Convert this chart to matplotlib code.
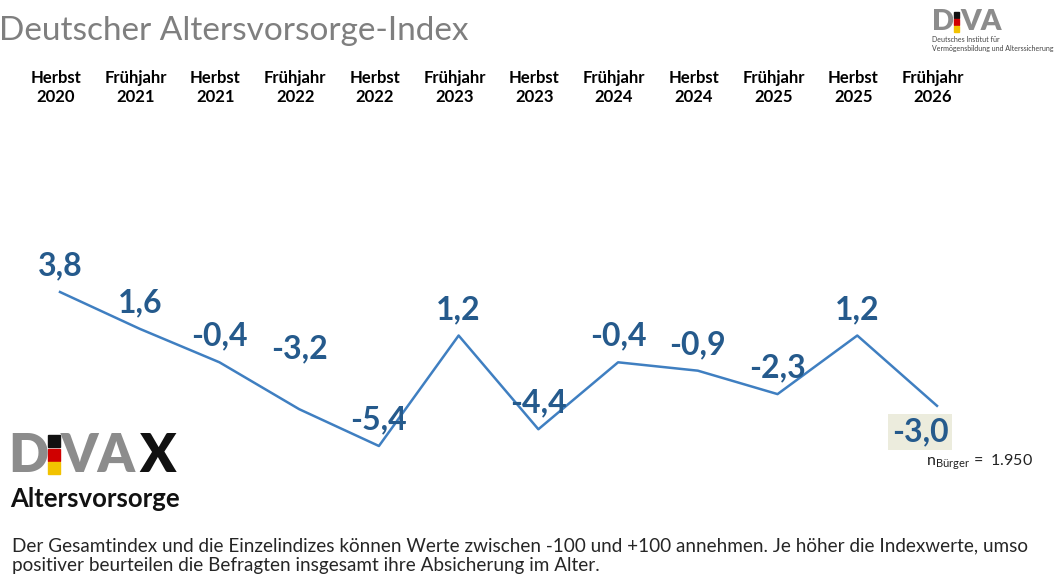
import matplotlib
matplotlib.use("Agg")
import matplotlib.pyplot as plt
from matplotlib.patches import Rectangle
from matplotlib.transforms import blended_transform_factory

plt.rcParams['font.family'] = ['Lato', 'DejaVu Sans']

# Daten
perioden = ["Herbst\n2020", "Frühjahr\n2021", "Herbst\n2021", "Frühjahr\n2022",
            "Herbst\n2022", "Frühjahr\n2023", "Herbst\n2023", "Frühjahr\n2024",
            "Herbst\n2024", "Frühjahr\n2025", "Herbst\n2025", "Frühjahr\n2026"]
werte = [3.8, 1.6, -0.4, -3.2, -5.4, 1.2, -4.4, -0.4, -0.9, -2.3, 1.2, -3.0]
etiketten = ["3,8", "1,6", "-0,4", "-3,2", "-5,4", "1,2", "-4,4", "-0,4",
             "-0,9", "-2,3", "1,2", "-3,0"]

W, H = 1058, 579
fig = plt.figure(figsize=(W / 100, H / 100), dpi=100)

# Achse: Index 0 bei x=60px, Index 11 bei x=937px ; 3,8 bei y=292px, -5,4 bei y=446px
ax = fig.add_axes([60 / W, 1 - 446 / H, 877 / W, 154 / H])
ax.set_xlim(0, len(werte) - 1)
ax.set_ylim(min(werte), max(werte))
ax.axis("off")

x = list(range(len(werte)))
ax.plot(x, werte, color="#3F7FC1", lw=1.8, clip_on=False)

blau = "#255A8C"
for i, (v, t) in enumerate(zip(werte, etiketten)):
    if i == len(werte) - 1:
        # letzter Wert unten, hinterlegt
        ax.annotate(t, (i, v), xytext=(-17, -26), textcoords="offset pixels",
                    ha="center", va="center", fontsize=23, fontweight="bold",
                    color=blau, annotation_clip=False,
                    bbox=dict(boxstyle="square,pad=0.1", fc="#ECECDD", ec="none"))
    else:
        dy = 60 if t == "-3,2" else 26
        ax.annotate(t, (i, v), xytext=(0, dy), textcoords="offset pixels",
                    ha="center", va="center", fontsize=23, fontweight="bold",
                    color=blau, annotation_clip=False)

# Periodenbeschriftung oben
trans = blended_transform_factory(ax.transData, fig.transFigure)
for i, p in enumerate(perioden):
    ax.text(i - 0.05, 1 - 87.5 / H, p, transform=trans,
            ha="center", va="center", fontsize=12, fontweight="bold",
            color="black", linespacing=1.3)

# Titel
fig.text(-1 / W, 1 - 31 / H, "Deutscher Altersvorsorge-Index", fontsize=24,
         fontweight="normal", color="#7F7F7F", ha="left", va="center")

# DIVA Logo oben rechts
grau = "#8C8C8C"
fig.text(932 / W, 1 - 22.5 / H, "D", fontsize=21, fontweight="heavy",
         color=grau, ha="left", va="center")
for k, c in enumerate(["#111111", "#D00000", "#F2C200"]):
    fig.add_artist(Rectangle((954 / W, 1 - (12 + k * 7 + 6) / H), 5 / W, 6 / H,
                             transform=fig.transFigure, color=c))
fig.text(960 / W, 1 - 22.5 / H, "VA", fontsize=21, fontweight="heavy",
         color=grau, ha="left", va="center")
fig.text(932 / W, 1 - 44 / H, "Deutsches Institut für\nVermögensbildung und Alterssicherung",
         fontsize=5, color="#444444", ha="left", va="center", linespacing=1.2)

# DIVAX Logo unten links
fig.text(8 / W, 1 - 456 / H, "D", fontsize=38, fontweight="heavy",
         color=grau, ha="left", va="center")
for k, c in enumerate(["#111111", "#D00000", "#F2C200"]):
    fig.add_artist(Rectangle((48 / W, 1 - (435 + k * 13.5 + 12) / H), 12 / W, 12 / H,
                             transform=fig.transFigure, color=c))
fig.text(61 / W, 1 - 456 / H, "VA", fontsize=38, fontweight="heavy",
         color=grau, ha="left", va="center")
fig.text(139 / W, 1 - 456 / H, "X", fontsize=38, fontweight="heavy",
         color="#111111", ha="left", va="center")
fig.text(10 / W, 1 - 499 / H, "Altersvorsorge", fontsize=18.5, fontweight="bold",
         color="#111111", ha="left", va="center")

# Fallzahl
fig.text(926 / W, 1 - 462 / H, r"n$_{\mathregular{Bürger}}$ =  1.950", fontsize=11.5,
         color="#222222", ha="left", va="center")

# Fußnote
fig.text(12 / W, 1 - 556 / H,
         "Der Gesamtindex und die Einzelindizes können Werte zwischen -100 und +100 annehmen. "
         "Je höher die Indexwerte, umso\npositiver beurteilen die Befragten insgesamt ihre "
         "Absicherung im Alter.",
         fontsize=13.6, color="#262626", ha="left", va="center", linespacing=1.2)

fig.savefig("out.png", dpi=100)
